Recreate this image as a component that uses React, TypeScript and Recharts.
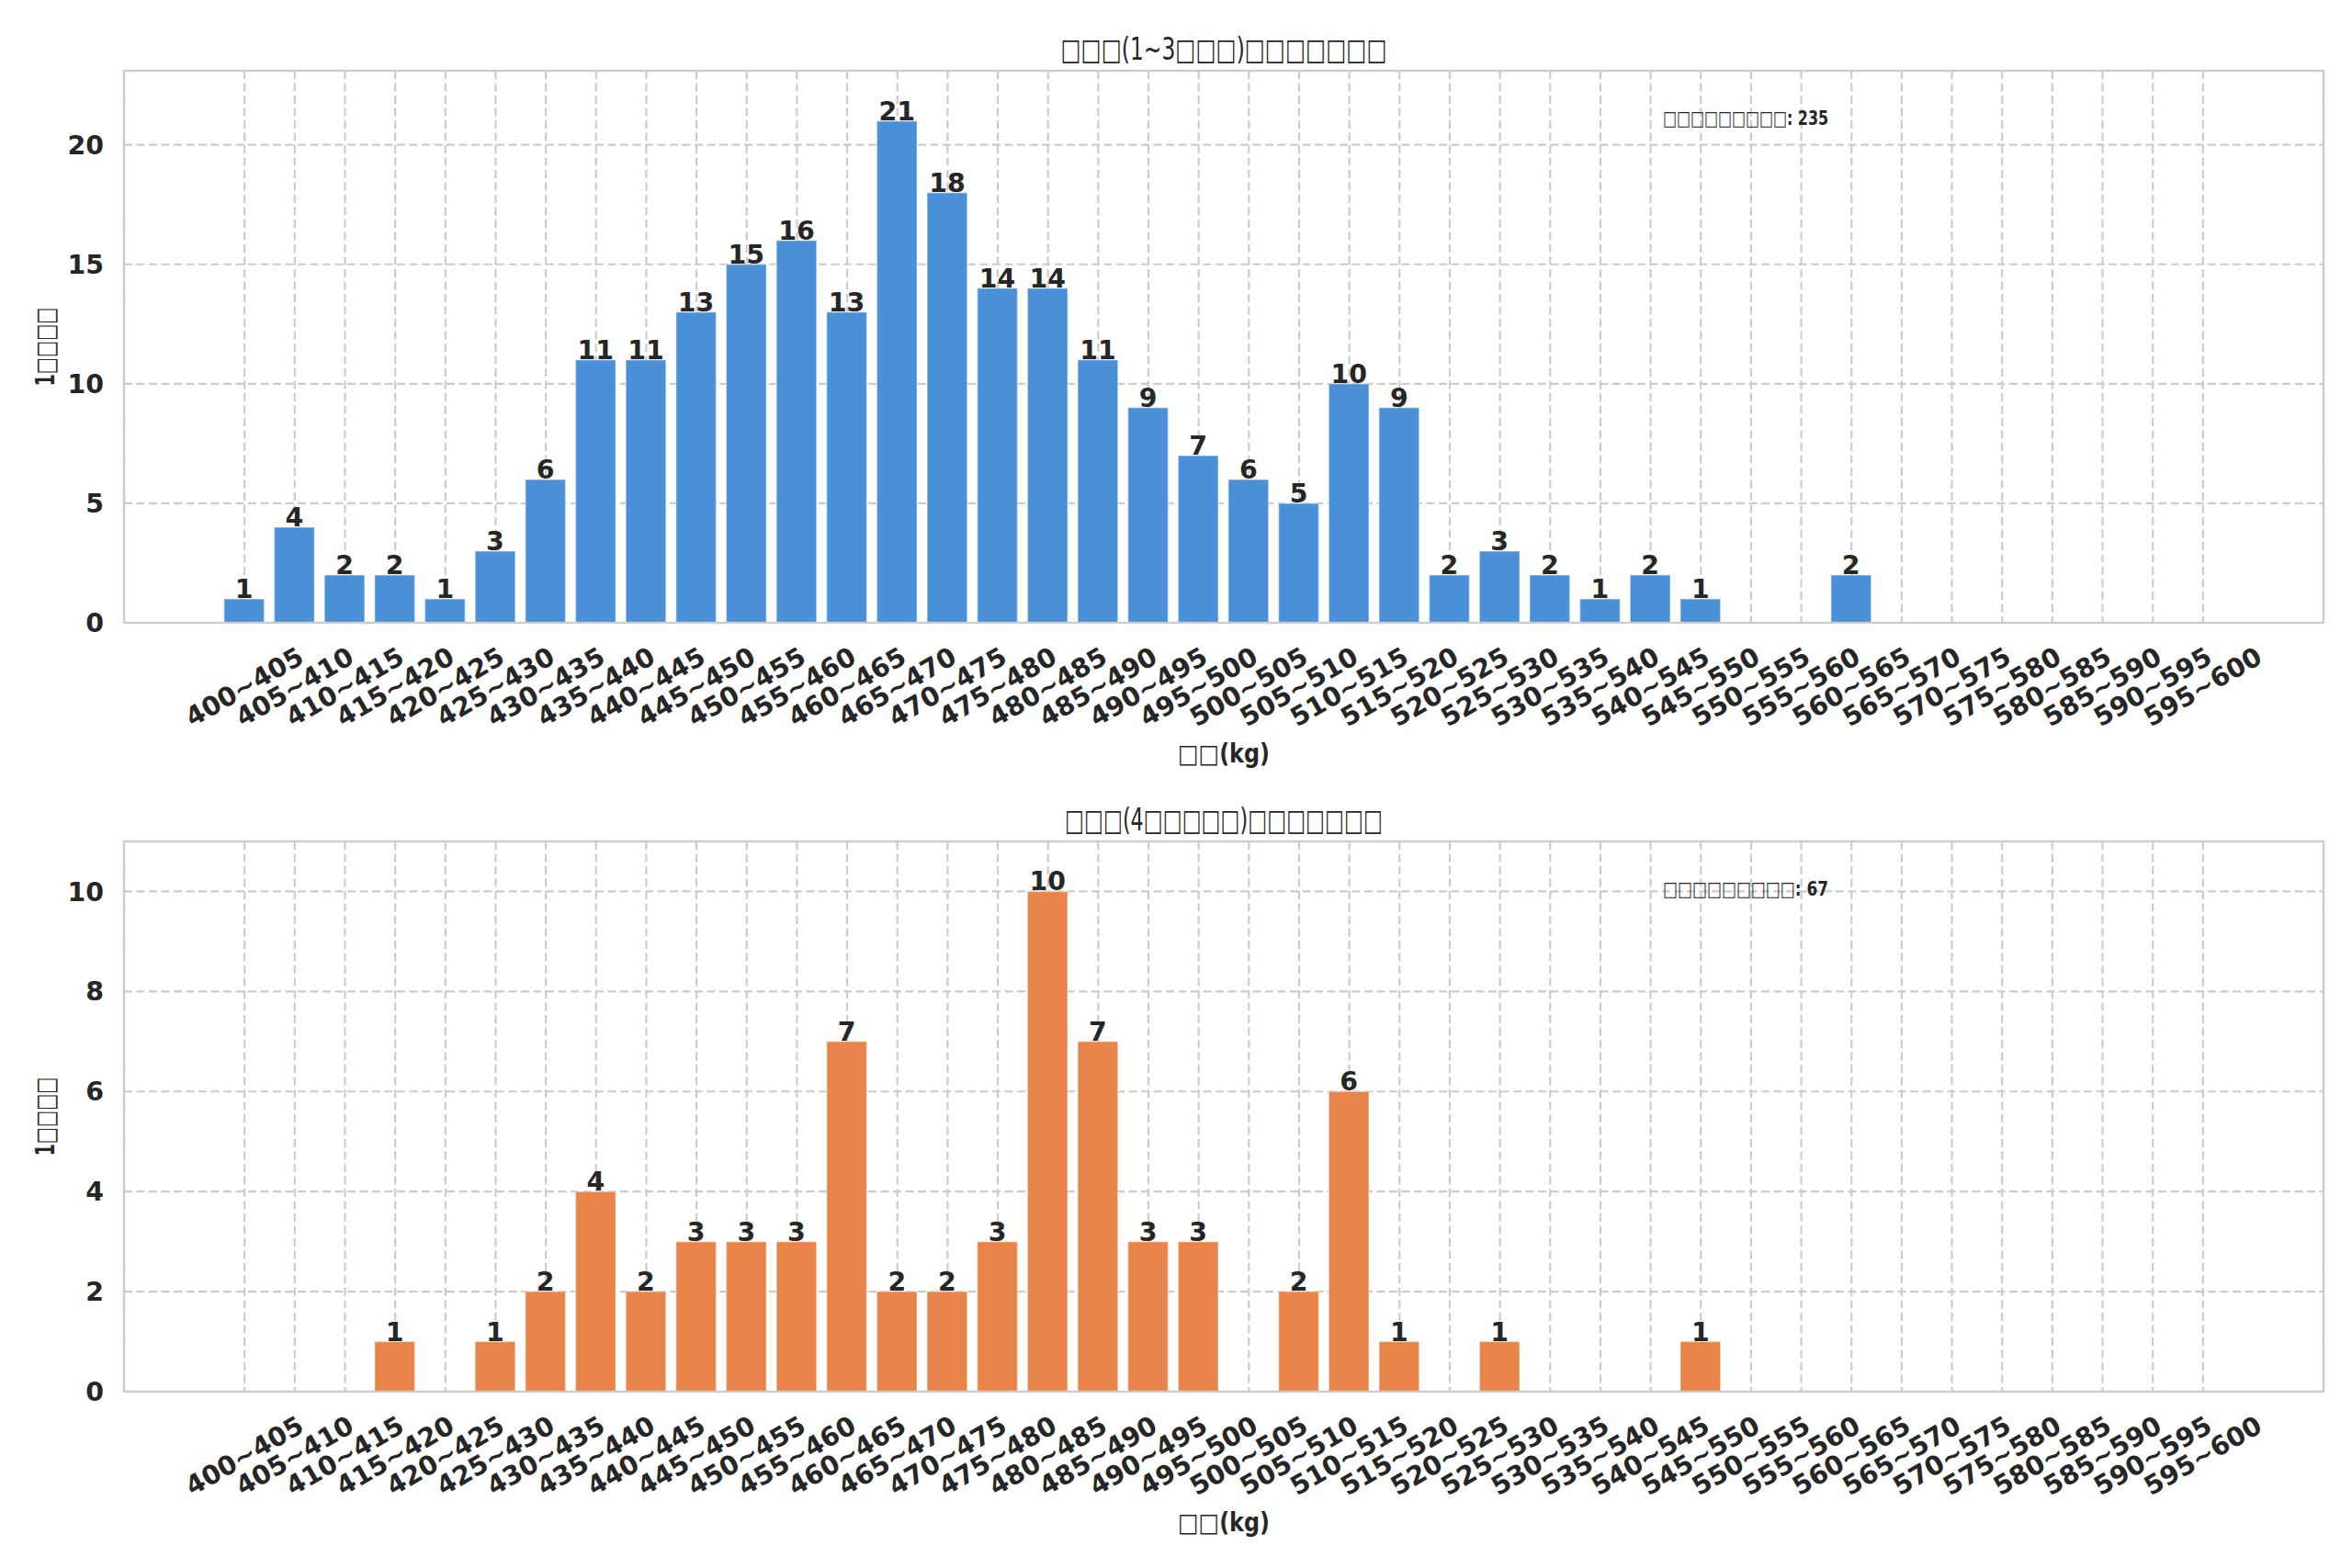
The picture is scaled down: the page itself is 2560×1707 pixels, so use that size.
import React from 'react';
import { BarChart, Bar, XAxis, YAxis, CartesianGrid, LabelList } from 'recharts';

// weight bins (kg)
const BINS = [
  '400~405', '405~410', '410~415', '415~420', '420~425', '425~430', '430~435', '435~440',
  '440~445', '445~450', '450~455', '455~460', '460~465', '465~470', '470~475', '475~480',
  '480~485', '485~490', '490~495', '495~500', '500~505', '505~510', '510~515', '515~520',
  '520~525', '525~530', '530~535', '535~540', '540~545', '545~550', '550~555', '555~560',
  '560~565', '565~570', '570~575', '575~580', '580~585', '585~590', '590~595', '595~600',
];

const COUNTS_1_3 = [
  1, 4, 2, 2, 1, 3, 6, 11, 11, 13, 15, 16, 13, 21, 18, 14, 14, 11, 9, 7,
  6, 5, 10, 9, 2, 3, 2, 1, 2, 1, 0, 0, 2, 0, 0, 0, 0, 0, 0, 0,
];

const COUNTS_4_PLUS = [
  0, 0, 0, 1, 0, 1, 2, 4, 2, 3, 3, 3, 7, 2, 2, 3, 10, 7, 3, 3,
  0, 2, 6, 1, 0, 1, 0, 0, 0, 1, 0, 0, 0, 0, 0, 0, 0, 0, 0, 0,
];

const TICKS_1_3 = [0, 5, 10, 15, 20];
const TICKS_4_PLUS = [0, 2, 4, 6, 8, 10];

// the reference draws its CJK text as missing-glyph boxes, so do the same
const TITLE_1_3 = '\u25A1\u25A1\u25A1(1~3\u25A1\u25A1\u25A1)\u25A1\u25A1\u25A1\u25A1\u25A1\u25A1\u25A1';
const TITLE_4_PLUS = '\u25A1\u25A1\u25A1(4\u25A1\u25A1\u25A1\u25A1\u25A1)\u25A1\u25A1\u25A1\u25A1\u25A1\u25A1\u25A1';
const X_LABEL = '\u25A1\u25A1(kg)';
const Y_LABEL = '1\u25A1\u25A1\u25A1\u25A1';
const TOTAL_LABEL = '\u25A1\u25A1\u25A1\u25A1\u25A1\u25A1\u25A1\u25A1\u25A1';

const FONT = '"DejaVu Sans", sans-serif';
const INK = '#262626';
const EDGE = '#cccccc';
const TICK_IDX = BINS.map((_, i) => i);

const PLOT_LEFT = 135;
const PLOT_RIGHT = 2529;
const PLOT_W = PLOT_RIGHT - PLOT_LEFT;
const CX = (PLOT_LEFT + PLOT_RIGHT) / 2;

const XTick = (props: any) => {
  const { x, y, payload } = props;
  const cy = y + 70;
  return (
    <text
      x={x}
      y={cy}
      transform={`rotate(-30 ${x} ${cy})`}
      textAnchor="middle"
      dominantBaseline="central"
      fontFamily={FONT}
      fontWeight="bold"
      fontSize={28.4}
      fill={INK}
    >
      {BINS[payload.value]}
    </text>
  );
};

const ValueLabel = (props: any) => {
  const { x, y, width, value } = props;
  if (!value) return null;
  return (
    <text
      x={x + width / 2}
      y={y - 1}
      textAnchor="middle"
      fontFamily={FONT}
      fontWeight="bold"
      fontSize={28.4}
      fill={INK}
    >
      {value}
    </text>
  );
};

type PanelProps = {
  counts: number[];
  color: string;
  yMax: number;
  yTicks: number[];
  height: number;
  top: number;
  bottom: number;
};

const Panel = ({ counts, color, yMax, yTicks, height, top, bottom }: PanelProps) => {
  const data = BINS.map((bin, i) => ({ idx: i, bin, count: counts[i] }));
  return (
    <BarChart
      width={2560}
      height={height}
      data={data}
      margin={{ top, right: 2560 - PLOT_RIGHT, bottom, left: 0 }}
    >
      <CartesianGrid stroke={EDGE} strokeWidth={2.2} strokeDasharray="9 4.5" />
      <XAxis
        dataKey="idx"
        type="number"
        domain={[-2.4, 41.4]}
        ticks={TICK_IDX}
        interval={0}
        height={162}
        tick={<XTick />}
        tickLine={false}
        tickSize={0}
        tickMargin={0}
        axisLine={false}
      />
      <YAxis
        type="number"
        domain={[0, yMax]}
        ticks={yTicks}
        width={PLOT_LEFT}
        tickLine={false}
        tickSize={0}
        tickMargin={22}
        axisLine={false}
        tick={{ fontFamily: FONT, fontWeight: 'bold', fontSize: 28.4, fill: INK }}
      />
      <Bar
        dataKey="count"
        fill={color}
        barSize={0.8 * (PLOT_W / 43.8)}
        stroke="#ffffff"
        strokeOpacity={0.4}
        strokeWidth={1.5}
        isAnimationActive={false}
      >
        <LabelList dataKey="count" content={<ValueLabel />} />
      </Bar>
    </BarChart>
  );
};

const PanelText = ({ title, total, plotTop, plotBottom, titleLen }: any) => {
  const cy = (plotTop + plotBottom) / 2;
  return (
    <g fontFamily={FONT} fill={INK}>
      <rect
        x={PLOT_LEFT}
        y={plotTop}
        width={PLOT_W}
        height={plotBottom - plotTop}
        fill="none"
        stroke={EDGE}
        strokeWidth={2.4}
      />
      <text x={CX} y={plotTop - 12} textAnchor="middle" fontSize={33.2} textLength={titleLen} lengthAdjust="spacingAndGlyphs">
        {title}
      </text>
      <text x={1810} y={plotTop + 59} fontSize={21.3} fontWeight="bold" textLength={180} lengthAdjust="spacingAndGlyphs">
        {`${TOTAL_LABEL}: ${total}`}
      </text>
      <text x={CX} y={plotBottom + 152} textAnchor="middle" fontSize={28.4} fontWeight="bold" textLength={100} lengthAdjust="spacingAndGlyphs">
        {X_LABEL}
      </text>
      <text
        x={49}
        y={cy}
        transform={`rotate(-90 49 ${cy})`}
        textAnchor="middle"
        dominantBaseline="central"
        fontSize={28.4}
        fontWeight="bold"
        textLength={86}
        lengthAdjust="spacingAndGlyphs"
      >
        {Y_LABEL}
      </text>
    </g>
  );
};

const sum = (arr: number[]) => arr.reduce((a, b) => a + b, 0);

export default function App() {
  return (
    <div style={{ position: 'absolute', left: 0, top: 0, width: 2560, height: 1707, background: '#ffffff' }}>
      <div style={{ position: 'absolute', left: 0, top: 0 }}>
        <Panel counts={COUNTS_1_3} color="#4a90d9" yMax={23.1} yTicks={TICKS_1_3} height={840} top={77} bottom={0} />
      </div>
      <div style={{ position: 'absolute', left: 0, top: 840 }}>
        <Panel counts={COUNTS_4_PLUS} color="#e8844a" yMax={11} yTicks={TICKS_4_PLUS} height={867} top={76} bottom={30} />
      </div>
      <svg width={2560} height={1707} style={{ position: 'absolute', left: 0, top: 0, pointerEvents: 'none' }}>
        <PanelText title={TITLE_1_3} total={sum(COUNTS_1_3)} plotTop={77} plotBottom={678} titleLen={355} />
        <PanelText title={TITLE_4_PLUS} total={sum(COUNTS_4_PLUS)} plotTop={916} plotBottom={1515} titleLen={346} />
      </svg>
    </div>
  );
}
